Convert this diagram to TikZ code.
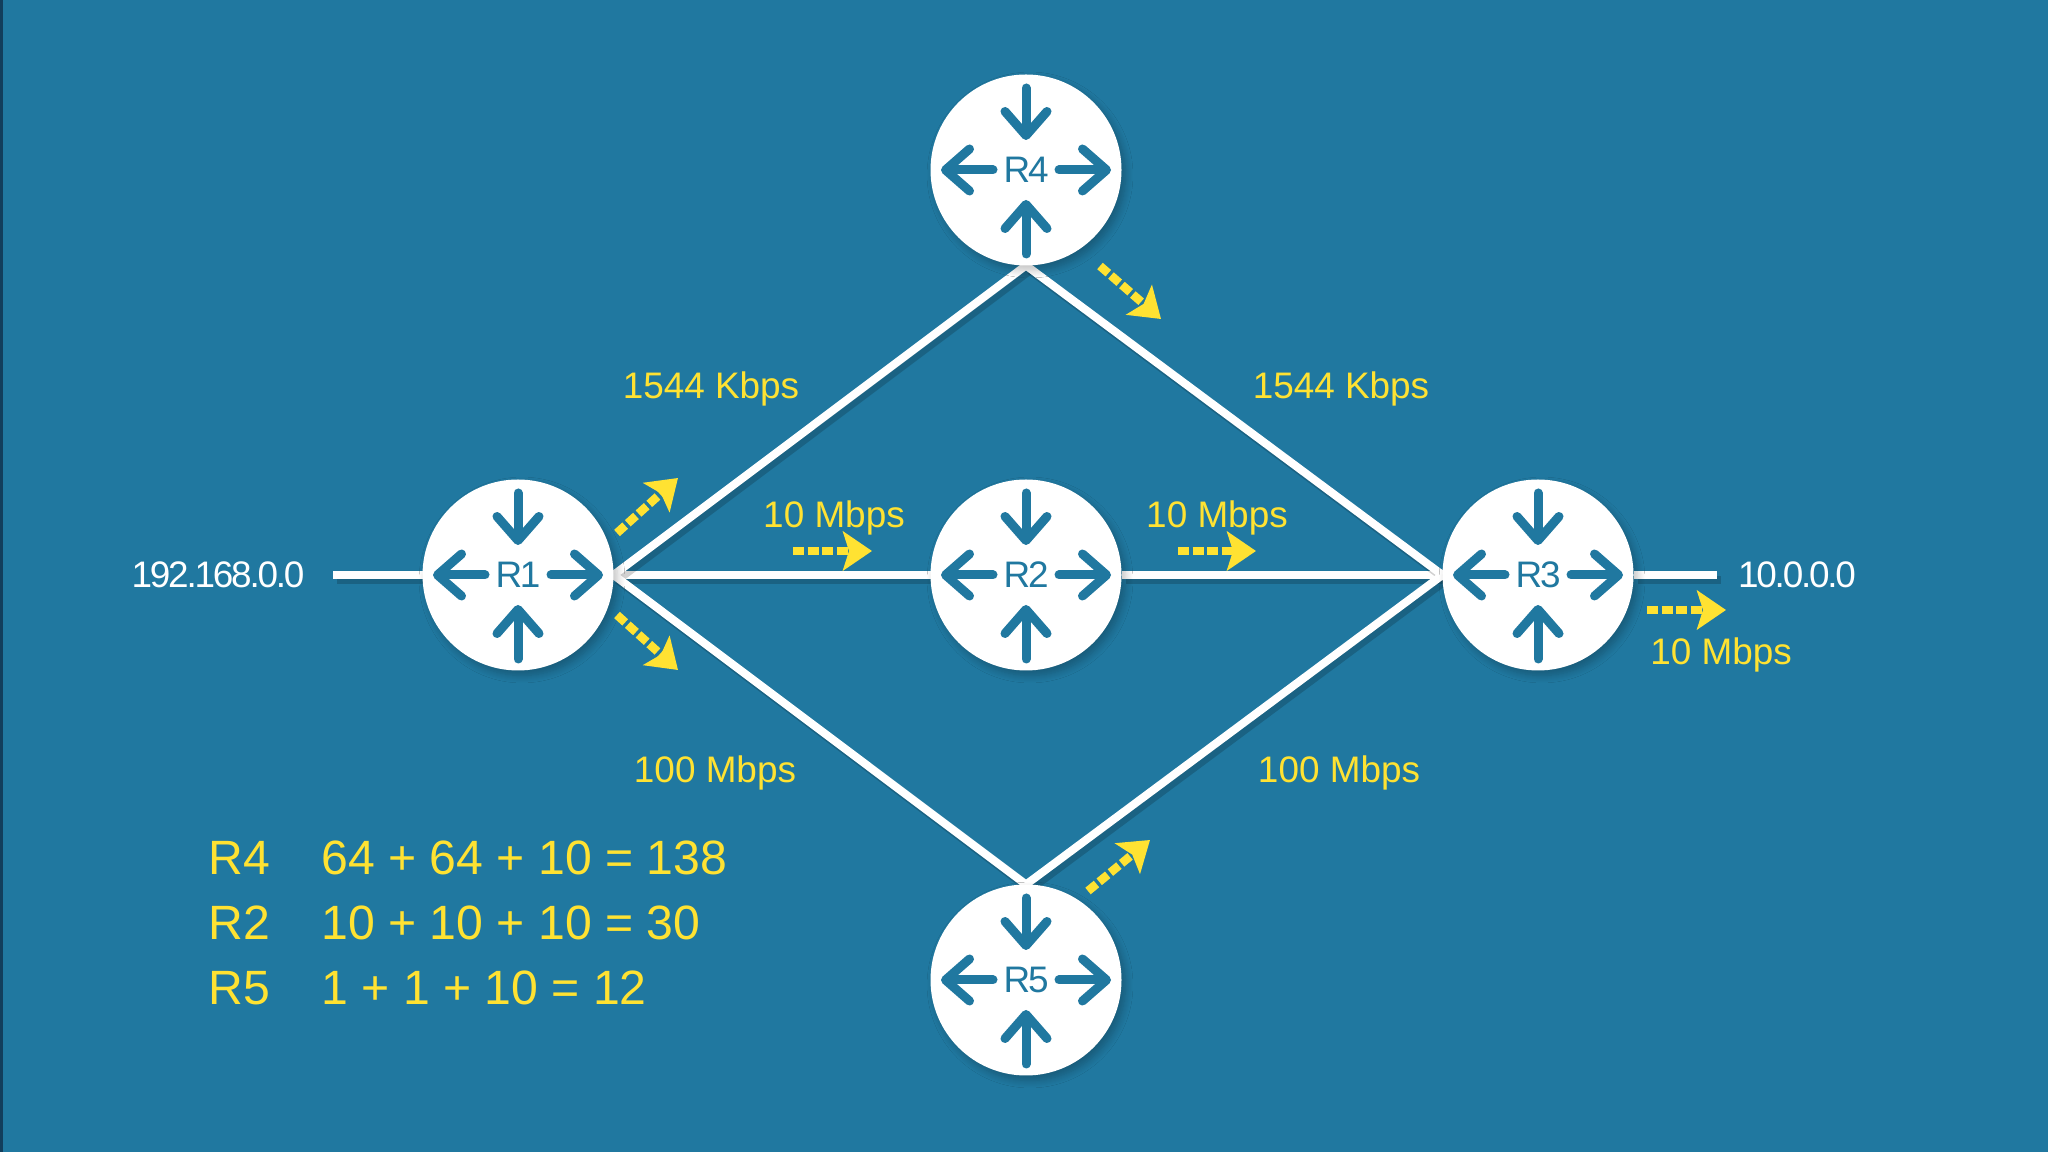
\documentclass[tikz,border=0pt]{standalone}
\usepackage{fontspec}
\setmainfont{Liberation Sans}
\newfontfamily\subnetfont[LetterSpace=-6]{Liberation Sans}
\usepackage{xcolor}
\definecolor{netblue}{RGB}{32,120,160}
\definecolor{netedge}{RGB}{18,62,92}
\definecolor{netyellow}{RGB}{255,226,50}
\usetikzlibrary{arrows.meta,calc,backgrounds,shadows.blur}
\tikzset{
  router/.style  ={circle,fill=white,minimum size=19.1mm,inner sep=0pt,outer sep=0pt,
                   text=netblue,font=\subnetfont\fontsize{10.5}{12}\selectfont,
                   blur shadow={shadow xshift=0.4mm,shadow yshift=-0.5mm,shadow blur steps=8,shadow opacity=25}},
  link/.style    ={draw=white,line width=0.8mm,
                   preaction={draw=black,opacity=0.18,line width=0.8mm,transform canvas={shift={(0.4mm,-0.5mm)}}}},
  portarrow/.style={draw=netblue,line width=0.9mm,line cap=round,
                   -{Straight Barb[length=2.4mm,width=4.2mm,round]}},
  flowarrow/.style={draw=netyellow,line width=0.85mm,dash pattern=on 1.1mm off 0.35mm,
                   -{Stealth[length=2.9mm,width=3.9mm,inset=0.6mm,sep=0pt]}},
  speed/.style   ={text=netyellow,font=\fontsize{10.5}{12}\selectfont},
  subnet/.style  ={text=white,font=\subnetfont\fontsize{10.5}{12}\selectfont},
  metric/.style  ={text=netyellow,font=\fontsize{13.7}{16}\selectfont,anchor=west},
}
\begin{document}
\begin{tikzpicture}[x=0.1mm,y=-0.1mm]
  \useasboundingbox (0,0) rectangle (2048,1152);

  % ---- routers ---------------------------------------------------------
  \node[router] (R1) at (518,575) {R1};
  \node[router] (R2) at (1026,575) {R2};
  \node[router] (R3) at (1538,575) {R3};
  \node[router] (R4) at (1026,170) {R4};
  \node[router] (R5) at (1026,980) {R5};
  \foreach \r in {R1,R2,R3,R4,R5} {
    \draw[portarrow] ($(\r)+(-33,0)$) -- ($(\r)+(-85,0)$);
    \draw[portarrow] ($(\r)+(33,0)$) -- ($(\r)+(85,0)$);
    \draw[portarrow] ($(\r)+(0,-82)$) -- ($(\r)+(0,-30)$);
    \draw[portarrow] ($(\r)+(0,84)$) -- ($(\r)+(0,30)$);
  }

  % ---- links -----------------------------------------------------------
  \coordinate (lanleft) at (333,575);
  \coordinate (lanright) at (1717,575);
  \begin{scope}[on background layer]
    \fill[netblue] (0,0) rectangle (2048,1152);
    \fill[netedge] (0,0) rectangle (3,1152);
    \draw[link] (lanleft) -- (R1.west);
    \draw[link] (R1.east) -- (R2.west);
    \draw[link] (R2.east) -- (R3.west);
    \draw[link] (R1.east) -- (R4.south);
    \draw[link] (R4.south) -- (R3.west);
    \draw[link] (R1.east) -- (R5.north);
    \draw[link] (R5.north) -- (R3.west);
    \draw[link] (R3.east) -- (lanright);
  \end{scope}

  % ---- traffic arrows --------------------------------------------------
  \coordinate (f1a) at (617,533);   \coordinate (f1b) at (678,478);
  \coordinate (f2a) at (617,615);   \coordinate (f2b) at (678,670);
  \coordinate (f3a) at (793,551);   \coordinate (f3b) at (872,551);
  \coordinate (f4a) at (1178,551);  \coordinate (f4b) at (1256,551);
  \coordinate (f5a) at (1100,266);  \coordinate (f5b) at (1161,319);
  \coordinate (f6a) at (1088,891);  \coordinate (f6b) at (1150,840);
  \coordinate (f7a) at (1647,610);  \coordinate (f7b) at (1726,610);
  \draw[flowarrow] (f1a) -- (f1b);
  \draw[flowarrow] (f2a) -- (f2b);
  \draw[flowarrow] (f3a) -- (f3b);
  \draw[flowarrow] (f4a) -- (f4b);
  \draw[flowarrow] (f5a) -- (f5b);
  \draw[flowarrow] (f6a) -- (f6b);
  \draw[flowarrow] (f7a) -- (f7b);

  % ---- labels ----------------------------------------------------------
  \node[subnet] (lan1) at (218,575) {192.168.0.0};
  \node[subnet] (lan2) at (1797,575) {10.0.0.0};
  \node[speed] (s14) at (711,389) {1544 Kbps};
  \node[speed] (s43) at (1341,389) {1544 Kbps};
  \node[speed] (s12) at (834,518) {10 Mbps};
  \node[speed] (s23) at (1217,518) {10 Mbps};
  \node[speed] (s15) at (715,773) {100 Mbps};
  \node[speed] (s53) at (1339,773) {100 Mbps};
  \node[speed] (s3o) at (1721,655) {10 Mbps};

  % ---- metric sums -----------------------------------------------------
  \node[metric] (m4) at (196,858) {R4};
  \node[metric] (m2) at (196,923) {R2};
  \node[metric] (m5) at (196,988) {R5};
  \node[metric] (v4) at (309,858) {64 + 64 + 10 = 138};
  \node[metric] (v2) at (309,923) {10 + 10 + 10 = 30};
  \node[metric] (v5) at (309,988) {1 + 1 + 10 = 12};
\end{tikzpicture}
\end{document}
